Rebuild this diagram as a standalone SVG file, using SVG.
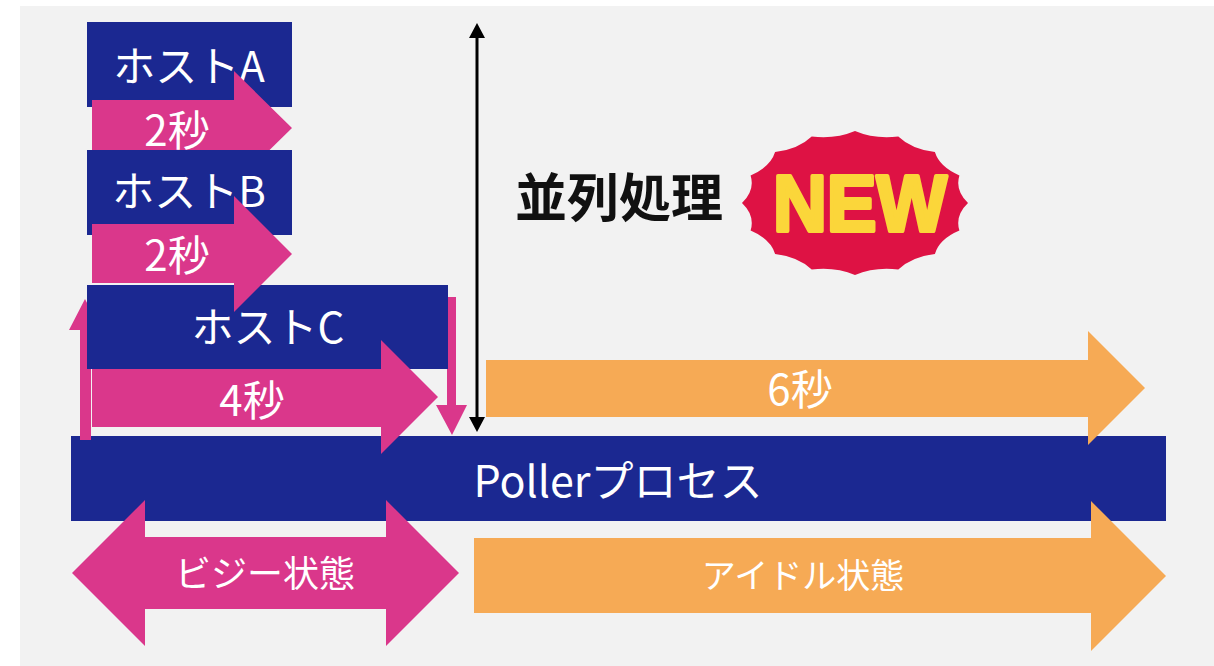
<svg xmlns="http://www.w3.org/2000/svg" width="1214" height="666" viewBox="0 0 1214 666">
<style>
.host{fill:#1b2891}
.pink{fill:#da378b}
.orange{fill:#f6aa55}
.t{font-family:"Noto Sans CJK JP","Noto Sans",sans-serif;fill:#ffffff;text-anchor:middle}
</style>
<rect x="0" y="0" width="1214" height="666" fill="#ffffff"/>
<rect x="20" y="6" width="1194" height="660" fill="#f2f2f2"/>
<g id="poller">
<rect class="host" x="71" y="436" width="1095" height="85"/>
<text class="t" x="618" y="497" font-size="43" textLength="289" lengthAdjust="spacingAndGlyphs">Pollerプロセス</text>
</g>
<g id="hostA">
<rect class="host" x="87" y="22" width="205" height="85"/>
<text class="t" x="189" y="82" font-size="42">ホストA</text>
</g>
<g id="connectors-A">
<path class="pink" d="M92,100 H234 V71 L292,128 L234,185 V156 H92 Z"/>
<text class="t" x="177" y="146" font-size="42">2秒</text>
</g>
<g id="hostB">
<rect class="host" x="87" y="150" width="205" height="85"/>
<text class="t" x="189" y="207" font-size="42">ホストB</text>
</g>
<g id="connectors-side">
<path class="pink" d="M80,440 V330 H69 L85,299 L101,330 H91 V440 Z"/>
<path class="pink" d="M447,297 H456 V405 H467 L452,435 L436,405 H447 Z"/>
</g>
<g id="hostC">
<rect class="host" x="87" y="285" width="361" height="84"/>
<text class="t" x="268" y="343" font-size="42">ホストC</text>
</g>
<g id="connectors">
<path class="pink" d="M92,224 H234 V196 L292,254 L234,312 V283 H92 Z"/>
<text class="t" x="177" y="271" font-size="42">2秒</text>
<path class="pink" d="M92,369 H381 V340 L438,397 L381,454 V427 H92 Z"/>
<text class="t" x="252" y="416" font-size="42">4秒</text>
<line x1="477" y1="36" x2="477" y2="419" stroke="#000000" stroke-width="3"/>
<polygon points="477,23 469,38 485,38" fill="#000000"/>
<polygon points="477,432 469,417 485,417" fill="#000000"/>
<path class="orange" d="M486,360 H1088 V331 L1145,388 L1088,445 V417 H486 Z"/>
<text class="t" x="800" y="405" font-size="42">6秒</text>
</g>
<g id="busy">
<path class="pink" d="M72,573 L145,500 V537 H386 V500 L459,573 L386,646 V609 H145 V646 Z"/>
<text class="t" x="265" y="587" font-size="36">ビジー状態</text>
</g>
<g id="idle">
<path class="orange" d="M474,538 H1091 V501 L1166,576 L1091,651 V613 H474 Z"/>
<text class="t" x="803" y="588" font-size="34">アイドル状態</text>
</g>
<g id="parallel">
<text x="515" y="217" font-size="52" font-weight="bold" fill="#111111" font-family="'Noto Sans CJK JP','Noto Sans',sans-serif">並列処理</text>
</g>
<g id="new-badge">
<path fill="#de1244" d="M968,203 Q954.8,215.6 959.4,230.6 Q939.5,239 934.9,253.9 Q911.5,256.8 898.3,269.5 Q874.8,266.6 855,275 Q835.2,266.6 811.7,269.5 Q798.5,256.8 775.1,253.9 Q770.5,239 750.6,230.6 Q755.2,215.6 742,203 Q755.2,190.4 750.6,175.4 Q770.5,167 775.1,152.1 Q798.5,149.2 811.7,136.5 Q835.2,139.4 855,131 Q874.8,139.4 898.3,136.5 Q911.5,149.2 934.9,152.1 Q939.5,167 959.4,175.4 Q954.8,190.4 968,203 Z"/>
<text x="860" y="231" font-size="80" font-weight="bold" fill="#fbd63a" stroke="#fbd63a" stroke-width="4" stroke-linejoin="round" text-anchor="middle" textLength="174" lengthAdjust="spacingAndGlyphs" font-family="'Liberation Sans',sans-serif">NEW</text>
</g>
</svg>
